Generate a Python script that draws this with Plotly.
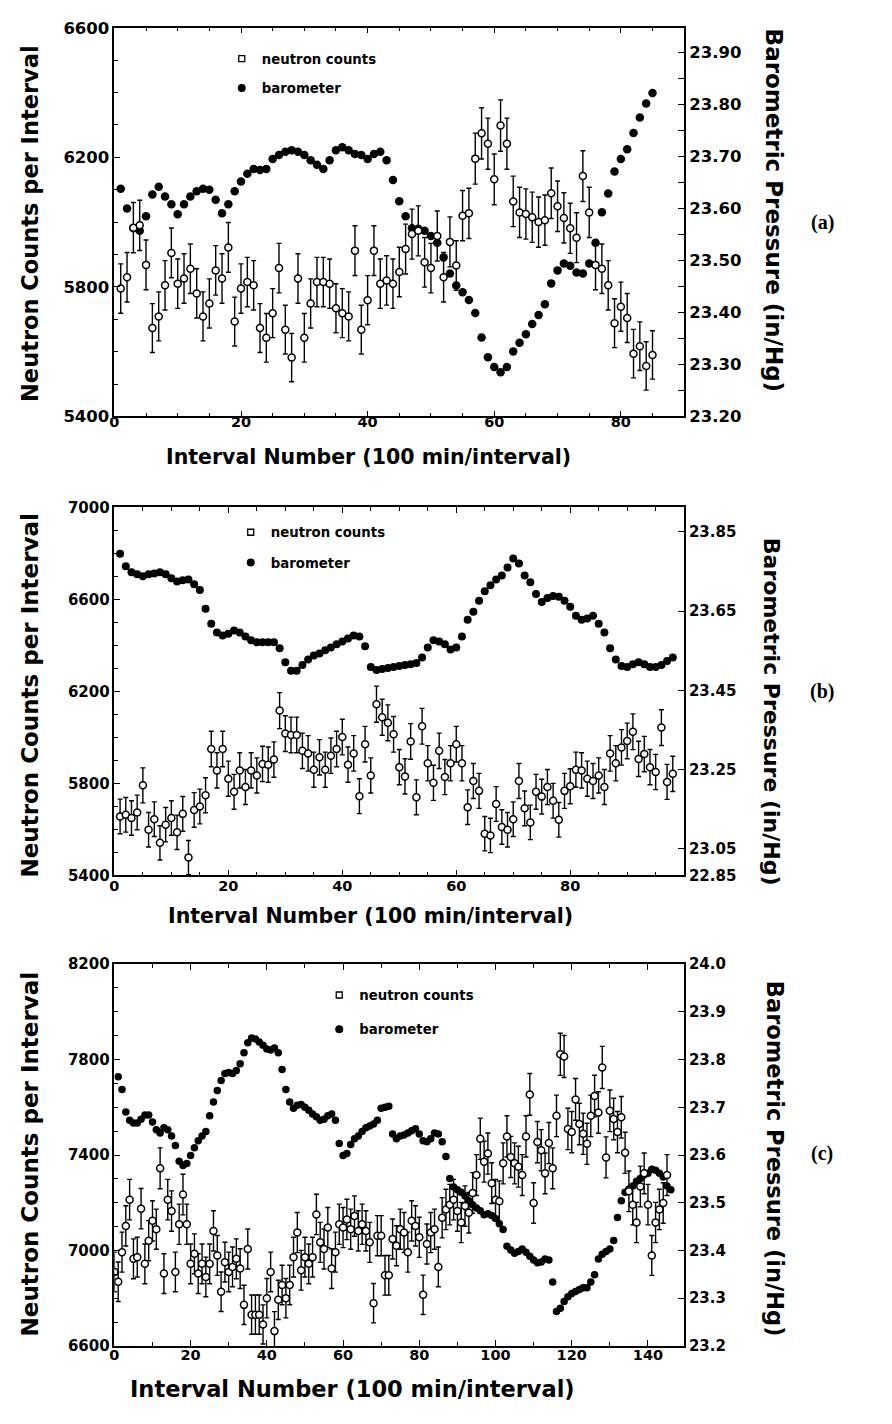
import numpy as np
import plotly.graph_objects as go

# ---------------- data ----------------
# Panel (a)
neutron_a = [5795, 5830, 5983, 5990, 5868, 5673, 5709, 5805, 5905, 5810,
             5826, 5856, 5780, 5709, 5749, 5851, 5826, 5922, 5693, 5795,
             5815, 5805, 5673, 5643, 5719, 5858, 5668, 5582, 5826, 5643,
             5749, 5815, 5815, 5810, 5734, 5719, 5709, 5912, 5668, 5759,
             5912, 5810, 5820, 5810, 5846, 5917, 5963, 5973, 5876, 5858,
             5957, 5830, 5939, 5866, 6020, 6027, 6196, 6274, 6242, 6132,
             6298, 6242, 6064, 6030, 6025, 6015, 6000, 6006, 6089, 6049,
             6013, 5981, 5952, 6142, 6030, 5868, 5856, 5805, 5688, 5739,
             5704, 5594, 5617, 5556, 5590]
baro_a = [23.638, 23.600, 23.562, 23.557, 23.585, 23.627, 23.642, 23.623, 23.608, 23.589,
          23.608, 23.623, 23.633, 23.638, 23.636, 23.617, 23.591, 23.608, 23.633, 23.652,
          23.667, 23.676, 23.674, 23.676, 23.695, 23.703, 23.709, 23.712, 23.709, 23.703,
          23.693, 23.684, 23.676, 23.693, 23.712, 23.718, 23.712, 23.705, 23.703, 23.695,
          23.705, 23.709, 23.693, 23.655, 23.614, 23.585, 23.562, 23.561, 23.557, 23.547,
          23.534, 23.506, 23.475, 23.452, 23.439, 23.424, 23.399, 23.352, 23.314, 23.295,
          23.285, 23.295, 23.325, 23.342, 23.358, 23.378, 23.395, 23.416, 23.456, 23.481,
          23.494, 23.490, 23.477, 23.475, 23.494, 23.534, 23.593, 23.629, 23.671, 23.695,
          23.714, 23.745, 23.775, 23.802, 23.822]

# Panel (b)
neutron_b = [5656, 5663, 5649, 5673, 5791, 5598, 5644, 5541, 5620, 5649,
             5587, 5667, 5477, 5684, 5699, 5748, 5949, 5856, 5949, 5820,
             5763, 5856, 5784, 5856, 5834, 5884, 5881, 5903, 6116, 6016,
             6010, 6010, 5941, 5930, 5859, 5913, 5859, 5920, 5949, 6001,
             5881, 5930, 5744, 5970, 5834, 6144, 6087, 6063, 6013, 5870,
             5830, 5982, 5739, 6048, 5887, 5802, 5941, 5827, 5887, 5970,
             5887, 5696, 5810, 5767, 5581, 5573, 5710, 5610, 5598, 5644,
             5810, 5691, 5630, 5763, 5742, 5784, 5724, 5641, 5767, 5787,
             5859, 5856, 5820, 5810, 5834, 5784, 5930, 5887, 5956, 5984,
             6024, 5906, 5927, 5870, 5849, 6042, 5806, 5841]
baro_b = [23.795, 23.763, 23.748, 23.743, 23.738, 23.743, 23.745, 23.748, 23.743, 23.733,
          23.725, 23.728, 23.730, 23.718, 23.703, 23.656, 23.618, 23.596, 23.588, 23.593,
          23.601, 23.596, 23.586, 23.576, 23.571, 23.571, 23.571, 23.571, 23.556, 23.521,
          23.499, 23.499, 23.514, 23.528, 23.538, 23.543, 23.551, 23.558, 23.566, 23.573,
          23.581, 23.588, 23.586, 23.561, 23.509, 23.501, 23.504, 23.506, 23.509, 23.511,
          23.514, 23.516, 23.519, 23.533, 23.558, 23.576, 23.573, 23.566, 23.553, 23.558,
          23.586, 23.628, 23.648, 23.676, 23.700, 23.715, 23.730, 23.740, 23.760, 23.783,
          23.770, 23.740, 23.723, 23.693, 23.673, 23.683, 23.688, 23.686, 23.676, 23.661,
          23.638, 23.628, 23.631, 23.638, 23.618, 23.596, 23.556, 23.528, 23.511, 23.509,
          23.516, 23.521, 23.516, 23.509, 23.509, 23.514, 23.524, 23.533]

# Panel (c)
neutron_c = [6910, 6869, 6993, 7103, 7213, 6965, 6972, 7175, 6944, 7041,
             7124, 7089, 7344, 6903, 7213, 7165, 6910, 7110, 7234, 7110,
             6944, 6986, 6903, 6944, 6889, 6944, 7082, 6979, 6827, 6951,
             6910, 6931, 6965, 6924, 6772, 7006, 6731, 6731, 6731, 6690,
             6800, 6910, 6662, 6793, 6855, 6800, 6855, 6972, 7075, 6917,
             6972, 6944, 6972, 7151, 7034, 7006, 7096, 6924, 6993, 7110,
             7096, 7130, 7089, 7144, 7082, 7110, 7082, 7034, 6779, 7062,
             7062, 6896, 6896, 7048, 7020, 7089, 7075, 6993, 7124, 7103,
             7055, 6814, 7027, 7075, 7089, 6931, 7137, 7172, 7192, 7213,
             7165, 7117, 7186, 7158, 7241, 7316, 7468, 7372, 7406, 7282,
             7213, 7206, 7365, 7478, 7392, 7365, 7351, 7316, 7478, 7654,
             7199, 7454, 7420, 7323, 7450, 7344, 7564, 7822, 7813, 7509,
             7496, 7633, 7530, 7489, 7447, 7564, 7647, 7578, 7767, 7390,
             7585, 7551, 7496, 7558, 7409, 7248, 7192, 7117, 7268, 7323,
             7192, 6979, 7117, 7172, 7199, 7316]
baro_c = [23.764, 23.737, 23.690, 23.673, 23.667, 23.667, 23.675, 23.684, 23.684, 23.669,
          23.653, 23.646, 23.657, 23.653, 23.640, 23.620, 23.587, 23.578, 23.582, 23.599,
          23.615, 23.630, 23.640, 23.649, 23.682, 23.711, 23.735, 23.756, 23.771, 23.773,
          23.771, 23.777, 23.791, 23.814, 23.835, 23.845, 23.843, 23.837, 23.830, 23.822,
          23.820, 23.824, 23.814, 23.779, 23.737, 23.711, 23.698, 23.704, 23.706, 23.700,
          23.694, 23.686, 23.680, 23.673, 23.675, 23.682, 23.686, 23.673, 23.624, 23.599,
          23.603, 23.622, 23.634, 23.640, 23.649, 23.657, 23.661, 23.665, 23.673, 23.698,
          23.700, 23.702, 23.644, 23.634, 23.640, 23.642, 23.646, 23.651, 23.655, 23.644,
          23.630, 23.628, 23.634, 23.646, 23.644, 23.628, 23.597, 23.551, 23.533, 23.527,
          23.522, 23.514, 23.504, 23.496, 23.489, 23.483, 23.475, 23.477, 23.473, 23.467,
          23.456, 23.444, 23.409, 23.401, 23.394, 23.398, 23.403, 23.396, 23.388, 23.380,
          23.374, 23.376, 23.382, 23.380, 23.334, 23.272, 23.279, 23.293, 23.303, 23.310,
          23.314, 23.318, 23.322, 23.322, 23.334, 23.349, 23.382, 23.392, 23.398, 23.403,
          23.421, 23.469, 23.504, 23.522, 23.529, 23.535, 23.545, 23.551, 23.558, 23.562,
          23.570, 23.568, 23.562, 23.554, 23.535, 23.527]

interval_a = list(range(1, len(neutron_a) + 1))
interval_baro_a = list(range(1, len(baro_a) + 1))
interval_b = list(range(1, len(neutron_b) + 1))
interval_baro_b = list(range(1, len(baro_b) + 1))
interval_c = list(range(0, len(neutron_c)))
interval_baro_c = list(range(1, len(baro_c) + 1))

x_ticks_a = [0, 20, 40, 60, 80]
x_ticks_b = [0, 20, 40, 60, 80]
x_ticks_c = [0, 20, 40, 60, 80, 100, 120, 140]
count_ticks_a = [5400, 5800, 6200, 6600]
count_ticks_b = [5400, 5800, 6200, 6600, 7000]
count_ticks_c = [6600, 7000, 7400, 7800, 8200]
baro_ticks_a = [23.2, 23.3, 23.4, 23.5, 23.6, 23.7, 23.8, 23.9]
# panel (b): the printed axis puts its "22.85" label at the bottom corner of the frame
baro_range_b = [22.9827, 23.9122]
baro_ticks_b = [22.9827, 23.05, 23.25, 23.45, 23.65, 23.85]
baro_labels_b = ["22.85", "23.05", "23.25", "23.45", "23.65", "23.85"]
baro_ticks_c = [23.2, 23.3, 23.4, 23.5, 23.6, 23.7, 23.8, 23.9, 24.0]

# ---------------- styling ----------------
W, H = 892, 1424
FONT = "DejaVu Sans"
X0, X1 = 110, 683


def px_x(p):
    return p / W


def px_y(p):
    return 1 - p / H


def bold(size, family=FONT):
    return dict(family=family, size=size, color="black", weight="bold")


panels = [
    dict(n=neutron_a, nx=interval_a, b=baro_a, bx=interval_baro_a,
         top=19, bot=413, xr=[0, 90], xt=x_ticks_a, xminor=5, xstand=-9,
         cr=[5400, 6600], ct=count_ticks_a, cminor=100,
         br=[23.2, 23.9476], bt=baro_ticks_a, btext=None, bminor=0.05, bfmt=".2f",
         ytick=16.5, bsize=8.5, nsize=7,
         xtitle=(366, 454, 20.5), ltitle=(217, 22.5), rtitle=(773, 204, 23),
         label=("(a)", 216), legend=(218, 35), lgap=9),
    dict(n=neutron_b, nx=interval_b, b=baro_b, bx=interval_baro_b,
         top=505, bot=878, xr=[0, 100], xt=x_ticks_b, xminor=5, xstand=-3,
         cr=[5400, 7000], ct=count_ticks_b, cminor=100,
         br=baro_range_b, bt=baro_ticks_b, btext=baro_labels_b, bminor=None,
         bfmt=".2f", ytick=15, bsize=8, nsize=7,
         xtitle=(368, 919, 20.5), ltitle=(695, 23), rtitle=(771, 712, 22),
         label=("(b)", 692), legend=(227, 515), lgap=10),
    dict(n=neutron_c, nx=interval_c, b=baro_c, bx=interval_baro_c,
         top=968, bot=1355, xr=[0, 149.5], xt=x_ticks_c, xminor=10, xstand=-5,
         cr=[6600, 8200], ct=count_ticks_c, cminor=100,
         br=[23.2, 24.0], bt=baro_ticks_c, btext=None, bminor=None, bfmt=".1f",
         ytick=15, bsize=7.5, nsize=7,
         xtitle=(349, 1399, 22.5), ltitle=(1160, 23), rtitle=(774, 1165, 22.5),
         label=("(c)", 1160), legend=(316, 984), lgap=14),
]

fig = go.Figure()
layout = dict(width=W, height=H, margin=dict(l=0, r=0, t=0, b=0),
              paper_bgcolor="white", plot_bgcolor="white", showlegend=True,
              annotations=[])

axis_common = dict(showline=True, linecolor="black", linewidth=1.5,
                   ticks="inside", tickcolor="black", tickwidth=1.4,
                   showgrid=False, zeroline=False)

for k, p in enumerate(panels):
    xi = k + 1
    yb = 2 * k + 1      # barometer axis (right, base)
    yc = 2 * k + 2      # counts axis (left, overlaying)
    xname = "x" if xi == 1 else f"x{xi}"
    ybname = "y" if yb == 1 else f"y{yb}"
    ycname = f"y{yc}"
    legname = "legend" if k == 0 else f"legend{k + 1}"
    dom_y = [px_y(p["bot"]), px_y(p["top"])]

    layout["xaxis" if xi == 1 else f"xaxis{xi}"] = dict(
        axis_common, domain=[px_x(X0), px_x(X1)], range=p["xr"], anchor=ybname,
        tickmode="array", tickvals=p["xt"], ticklen=6, mirror="ticks",
        tickfont=bold(14.5), ticklabelstandoff=p["xstand"],
        minor=dict(dtick=p["xminor"], ticklen=4, ticks="inside",
                   tickcolor="black", tickwidth=1.2))
    bax = dict(axis_common, domain=dom_y, range=p["br"], anchor=xname, side="right",
               tickmode="array", tickvals=p["bt"], tickformat=p["bfmt"], ticklen=6,
               tickfont=bold(p["ytick"]))
    if p["btext"]:
        bax["ticktext"] = p["btext"]
    if p["bminor"]:
        bax["minor"] = dict(dtick=p["bminor"], tick0=23.2, ticklen=6, ticks="inside",
                            tickcolor="black", tickwidth=1.2)
    layout["yaxis" if yb == 1 else f"yaxis{yb}"] = bax
    layout[f"yaxis{yc}"] = dict(
        axis_common, range=p["cr"], anchor=xname, overlaying=ybname, side="left",
        tickmode="array", tickvals=p["ct"], ticklen=6, tickfont=bold(p["ytick"]),
        minor=dict(dtick=p["cminor"], ticklen=4, ticks="inside",
                   tickcolor="black", tickwidth=1.2))

    # barometer data
    fig.add_trace(go.Scatter(
        x=p["bx"], y=p["b"], mode="markers", xaxis=xname, yaxis=ybname,
        marker=dict(symbol="circle", size=p["bsize"], color="black",
                    line=dict(width=0)),
        showlegend=False, name="barometer"))
    # neutron counts data with counting-statistics error bars
    counts = np.array(p["n"], dtype=float)
    fig.add_trace(go.Scatter(
        x=p["nx"], y=p["n"], mode="markers", xaxis=xname, yaxis=ycname,
        marker=dict(symbol="circle", size=p["nsize"], color="white",
                    line=dict(color="black", width=1.5)),
        error_y=dict(type="data", array=np.sqrt(counts), color="black",
                     thickness=1.4, width=2.5),
        showlegend=False, name="neutron counts"))
    # legend entries
    fig.add_trace(go.Scatter(
        x=[None], y=[None], mode="markers", xaxis=xname, yaxis=ycname,
        marker=dict(symbol="square", size=6, color="white",
                    line=dict(color="black", width=1.3)),
        name="neutron counts", legend=legname, legendgroup=f"n{k}"))
    fig.add_trace(go.Scatter(
        x=[None], y=[None], mode="markers", xaxis=xname, yaxis=ybname,
        marker=dict(symbol="circle", size=8, color="black"),
        name="barometer", legend=legname, legendgroup=f"b{k}"))

    layout[legname] = dict(x=px_x(p["legend"][0]), y=px_y(p["legend"][1]),
                           xanchor="left", yanchor="top", bgcolor="rgba(0,0,0,0)",
                           font=bold(13.3), tracegroupgap=p["lgap"], itemwidth=30)

    ann = layout["annotations"]
    ann.append(dict(text="Interval Number (100 min/interval)", xref="paper", yref="paper",
                    x=px_x(p["xtitle"][0]), y=px_y(p["xtitle"][1]), xanchor="center",
                    yanchor="middle", showarrow=False, font=bold(p["xtitle"][2])))
    ann.append(dict(text="Neutron Counts per Interval", xref="paper", yref="paper",
                    x=px_x(25), y=px_y(p["ltitle"][0]), xanchor="center", yanchor="middle",
                    textangle=-90, showarrow=False, font=bold(p["ltitle"][1])))
    ann.append(dict(text="Barometric Pressure (in/Hg)", xref="paper", yref="paper",
                    x=px_x(p["rtitle"][0]), y=px_y(p["rtitle"][1]), xanchor="center",
                    yanchor="middle", textangle=90, showarrow=False,
                    font=bold(p["rtitle"][2])))
    ann.append(dict(text=p["label"][0], xref="paper", yref="paper",
                    x=px_x(822), y=px_y(p["label"][1]), xanchor="center", yanchor="middle",
                    showarrow=False, font=bold(20, "Liberation Serif")))

fig.update_layout(**layout)
fig.write_html("out.html")
